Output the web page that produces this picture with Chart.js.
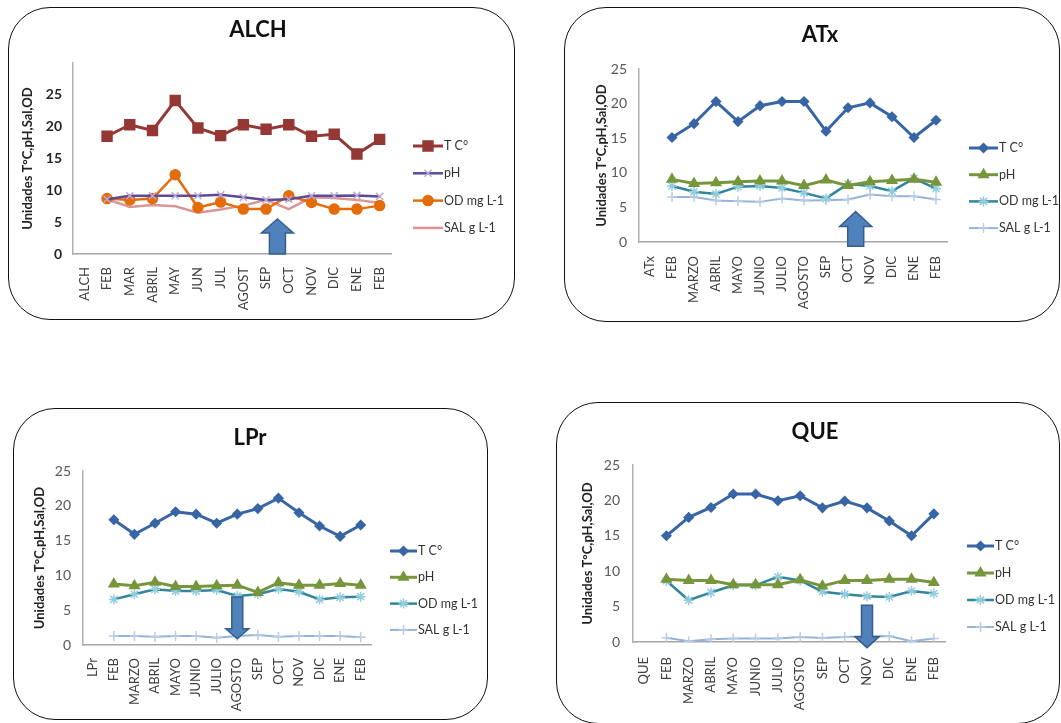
<!DOCTYPE html>
<html>
<head>
<meta charset="utf-8">
<script src="https://cdn.jsdelivr.net/npm/chart.js@4.4.0/dist/chart.umd.min.js"></script>
<style>
  body { margin: 0; width: 1061px; height: 723px; overflow: hidden; position: relative; background: #fff; }
  .panel { position: absolute; border: 1.5px solid #111; border-radius: 42px; box-sizing: border-box; }
  canvas { position: absolute; }
</style>
</head>
<body>
<div class="panel" id="box-alch"></div>
<div class="panel" id="box-atx"></div>
<div class="panel" id="box-lpr"></div>
<div class="panel" id="box-que"></div>
<canvas id="alch"></canvas>
<canvas id="atx"></canvas>
<canvas id="lpr"></canvas>
<canvas id="que"></canvas>
<script>
// --- data, one block per site (first category is the site name, no value) ---
const seriesNames = ['T C°', 'pH', 'OD mg L-1', 'SAL g L-1'];
const yTicksMain = [0, 5, 10, 15, 20, 25];

const alchLabels = ['ALCH', 'FEB', 'MAR', 'ABRIL', 'MAY', 'JUN', 'JUL', 'AGOST', 'SEP', 'OCT', 'NOV', 'DIC', 'ENE', 'FEB'];
const alchTemp = [null, 18.5, 20.3, 19.4, 24.1, 19.8, 18.6, 20.3, 19.6, 20.3, 18.5, 18.8, 15.7, 18.0];
const alchPH   = [null, 8.6, 9.15, 9.15, 9.15, 9.15, 9.3, 8.9, 8.5, 8.6, 9.15, 9.15, 9.2, 9.05];
const alchOD   = [null, 8.7, 8.5, 8.7, 12.45, 7.3, 8.15, 7.05, 7.05, 9.15, 8.1, 7.05, 7.05, 7.6];
const alchSAL  = [null, 8.6, 7.4, 7.7, 7.5, 6.5, 7.0, 7.6, 8.5, 7.05, 8.9, 8.8, 8.5, 8.0];

const atxLabels = ['ATx', 'FEB', 'MARZO', 'ABRIL', 'MAYO', 'JUNIO', 'JULIO', 'AGOSTO', 'SEP', 'OCT', 'NOV', 'DIC', 'ENE', 'FEB'];
const atxTemp = [null, 15.1, 17.1, 20.3, 17.4, 19.7, 20.3, 20.3, 16.0, 19.4, 20.1, 18.1, 15.1, 17.6];
const atxPH   = [null, 9.05, 8.45, 8.55, 8.7, 8.8, 8.8, 8.15, 8.95, 8.15, 8.7, 8.9, 9.05, 8.65];
const atxOD   = [null, 8.1, 7.25, 6.95, 8.0, 8.1, 7.8, 7.1, 6.3, 8.4, 8.1, 7.35, 9.2, 7.7];
const atxSAL  = [null, 6.5, 6.5, 6.0, 5.9, 5.8, 6.3, 6.0, 6.05, 6.15, 6.85, 6.6, 6.6, 6.15];

const lprLabels = ['LPr', 'FEB', 'MARZO', 'ABRIL', 'MAYO', 'JUNIO', 'JULIO', 'AGOSTO', 'SEP', 'OCT', 'NOV', 'DIC', 'ENE', 'FEB'];
const lprTemp = [null, 18.0, 15.9, 17.5, 19.15, 18.8, 17.5, 18.8, 19.6, 21.1, 19.0, 17.1, 15.6, 17.25];
const lprPH   = [null, 8.75, 8.5, 9.0, 8.4, 8.4, 8.5, 8.6, 7.55, 8.95, 8.6, 8.6, 8.85, 8.6];
const lprOD   = [null, 6.55, 7.3, 8.0, 7.75, 7.75, 7.9, 7.05, 7.3, 8.05, 7.65, 6.55, 6.85, 6.95];
const lprSAL  = [null, 1.3, 1.3, 1.2, 1.3, 1.3, 1.05, 1.3, 1.45, 1.2, 1.3, 1.3, 1.3, 1.1];

const queLabels = ['QUE', 'FEB', 'MARZO', 'ABRIL', 'MAYO', 'JUNIO', 'JULIO', 'AGOSTO', 'SEP', 'OCT', 'NOV', 'DIC', 'ENE', 'FEB'];
const queTemp = [null, 15.0, 17.6, 19.0, 20.9, 20.9, 19.95, 20.65, 18.95, 19.9, 18.95, 17.1, 15.0, 18.1];
const quePH   = [null, 8.85, 8.7, 8.7, 8.1, 8.1, 8.1, 8.8, 7.9, 8.7, 8.7, 8.85, 8.85, 8.4];
const queOD   = [null, 8.65, 5.9, 7.0, 8.0, 8.0, 9.2, 8.7, 7.1, 6.75, 6.45, 6.35, 7.2, 6.85];
const queSAL  = [null, 0.6, 0.1, 0.4, 0.5, 0.5, 0.5, 0.7, 0.55, 0.7, 0.8, 0.85, 0.1, 0.5];

const FONT = 'Lato, "Liberation Sans", sans-serif';

// title centred on the whole panel, not on the plot
const panelTitle = {
  id: 'panelTitle',
  afterDraw(chart, args, o) {
    const ctx = chart.ctx;
    ctx.save();
    ctx.font = 'bold 22px ' + FONT;
    ctx.fillStyle = '#111';
    ctx.textAlign = 'center';
    ctx.textBaseline = 'middle';
    ctx.fillText(o.text, o.x, o.y);
    ctx.restore();
  }
};

// legend drawn as excel-style line + marker samples on the right of the plot
const lineLegend = {
  id: 'lineLegend',
  afterDraw(chart, args, opts) {
    const ctx = chart.ctx;
    const x0 = chart.chartArea.right + opts.offsetX;
    chart.data.datasets.forEach((ds, i) => {
      const y = opts.top + i * opts.spacing;
      ctx.save();
      ctx.strokeStyle = ds.borderColor;
      ctx.lineWidth = ds.borderWidth;
      ctx.beginPath();
      ctx.moveTo(x0, y);
      ctx.lineTo(x0 + opts.length, y);
      ctx.stroke();
      if (ds.pointRadius > 0) {
        ctx.fillStyle = ds.pointBackgroundColor;
        ctx.strokeStyle = ds.pointBorderColor;
        ctx.lineWidth = ds.pointBorderWidth;
        Chart.helpers.drawPoint(ctx, {
          pointStyle: ds.pointStyle, radius: ds.pointRadius,
          borderWidth: ds.pointBorderWidth, rotation: 0
        }, x0 + opts.length / 2, y);
      }
      ctx.fillStyle = '#333';
      ctx.font = '12.5px ' + FONT;
      ctx.textBaseline = 'middle';
      ctx.fillText(ds.label, x0 + opts.length + 1, y);
      ctx.restore();
    });
  }
};

// block arrow pointing at a month, placed in data units
const arrowMark = {
  id: 'arrowMark',
  afterDatasetsDraw(chart, args, a) {
    const ctx = chart.ctx;
    const x = chart.scales.x.getPixelForValue(a.at);
    const yBase = chart.scales.y.getPixelForValue(a.from);
    const yTip = chart.scales.y.getPixelForValue(a.to);
    const dir = yTip < yBase ? -1 : 1;
    const yNeck = yTip - dir * a.headLen;
    ctx.save();
    ctx.beginPath();
    ctx.moveTo(x - a.shaft / 2, yBase);
    ctx.lineTo(x - a.shaft / 2, yNeck);
    ctx.lineTo(x - a.head / 2, yNeck);
    ctx.lineTo(x, yTip);
    ctx.lineTo(x + a.head / 2, yNeck);
    ctx.lineTo(x + a.shaft / 2, yNeck);
    ctx.lineTo(x + a.shaft / 2, yBase);
    ctx.closePath();
    ctx.fillStyle = '#4f81bd';
    ctx.fill();
    ctx.strokeStyle = '#385d8a';
    ctx.lineWidth = 1.5;
    ctx.stroke();
    ctx.restore();
  }
};

function series(label, data, color, style, radius, markColor, width) {
  return {
    label: label,
    data: data,
    borderColor: color,
    borderWidth: width,
    backgroundColor: color,
    pointStyle: style,
    pointRadius: radius,
    pointHoverRadius: radius,
    pointBackgroundColor: markColor,
    pointBorderColor: markColor,
    pointBorderWidth: 1.5,
    tension: 0
  };
}

function makePanel(id, p) {
  const box = document.getElementById('box-' + id);
  const cv = document.getElementById(id);
  [box, cv].forEach(el => {
    el.style.left = p.box.x + 'px';
    el.style.top = p.box.y + 'px';
    el.style.width = p.box.w + 'px';
    el.style.height = p.box.h + 'px';
  });
  cv.width = p.box.w;
  cv.height = p.box.h;

  return new Chart(cv, {
    type: 'line',
    data: { labels: p.labels, datasets: p.datasets },
    plugins: [panelTitle, lineLegend, arrowMark],
    options: {
      responsive: false,
      animation: false,
      devicePixelRatio: 1,
      layout: { padding: p.pad },
      plugins: {
        legend: { display: false },
        tooltip: { enabled: false },
        title: { display: false },
        panelTitle: p.title,
        lineLegend: p.legend,
        arrowMark: p.arrow
      },
      scales: {
        x: {
          type: 'category',
          offset: true,
          grid: { display: false },
          border: { color: '#a6a6a6', width: 1.5 },
          afterFit(s) { s.height = p.xHeight; },
          ticks: {
            autoSkip: false, minRotation: 90, maxRotation: 90, padding: p.xPad,
            color: '#404040', font: { family: FONT, size: 13 }
          }
        },
        y: {
          min: 0, max: p.yMax,
          grid: { display: false },
          border: { color: '#b0b0b0', width: 1.5 },
          afterFit(s) { s.width = p.yWidth; },
          afterBuildTicks(s) { s.ticks = yTicksMain.map(v => ({ value: v })); },
          title: {
            display: true, text: 'Unidades T°C,pH,Sal,OD', color: '#222',
            font: { family: FONT, size: 13, weight: 'bold' },
            padding: { top: 0, bottom: 0 }
          },
          ticks: {
            padding: p.tickPad, color: p.tickColor,
            font: { family: FONT, size: 14, weight: p.tickWeight }
          }
        }
      }
    }
  });
}

// ALCH: red / purple / orange / pink palette
makePanel('alch', {
  labels: alchLabels, yMax: 30,
  title: { text: 'ALCH', x: 250, y: 23 },
  box: { x: 8, y: 7, w: 507, h: 313 },
  pad: { left: 12, top: 56, right: 124, bottom: 6 },
  yWidth: 53, xHeight: 60, tickPad: 3, xPad: 5,
  tickColor: '#262626', tickWeight: 'bold',
  legend: { offsetX: 22, top: 139, spacing: 27.3, length: 30 },
  arrow: { at: 8.5, from: 0, to: 5.5, shaft: 16, head: 32, headLen: 14 },
  datasets: [
    series(seriesNames[0], alchTemp, '#953735', 'rect', 7, '#953735', 3),
    series(seriesNames[1], alchPH, '#5f4a99', 'crossRot', 5, '#b9aad8', 2.5),
    series(seriesNames[2], alchOD, '#e46c0a', 'circle', 5, '#e46c0a', 2.5),
    series(seriesNames[3], alchSAL, '#d99694', 'circle', 0, '#d99694', 2.5)
  ]
});

// the other three sites share the blue / green / teal / light blue palette
function bluePalette(t, ph, od, sal) {
  return [
    series(seriesNames[0], t, '#3765a5', 'rectRot', 4.5, '#3765a5', 3),
    series(seriesNames[1], ph, '#77963c', 'triangle', 5.5, '#77963c', 3),
    series(seriesNames[2], od, '#31869b', 'star', 5, '#93cddd', 2.5),
    series(seriesNames[3], sal, '#95b3d7', 'cross', 5, '#b9cde5', 2)
  ];
}

makePanel('atx', {
  labels: atxLabels, yMax: 25,
  title: { text: 'ATx', x: 256, y: 28 },
  box: { x: 564, y: 7, w: 496, h: 315 },
  pad: { left: 30, top: 62, right: 113, bottom: 10 },
  yWidth: 45, xHeight: 70, tickPad: 4, xPad: 6,
  tickColor: '#595959', tickWeight: 'normal',
  legend: { offsetX: 22, top: 141, spacing: 26.7, length: 29 },
  arrow: { at: 9.35, from: -0.6, to: 4.4, shaft: 16, head: 32, headLen: 15 },
  datasets: bluePalette(atxTemp, atxPH, atxOD, atxSAL)
});

makePanel('lpr', {
  labels: lprLabels, yMax: 25,
  title: { text: 'LPr', x: 237, y: 30 },
  box: { x: 13, y: 408, w: 475, h: 312 },
  pad: { left: 19, top: 63, right: 117, bottom: 7 },
  yWidth: 51, xHeight: 68, tickPad: 4, xPad: 5,
  tickColor: '#595959', tickWeight: 'normal',
  legend: { offsetX: 19, top: 143, spacing: 26.3, length: 27 },
  arrow: { at: 7, from: 6.9, to: 0.9, shaft: 11, head: 23, headLen: 10 },
  datasets: bluePalette(lprTemp, lprPH, lprOD, lprSAL)
});

makePanel('que', {
  labels: queLabels, yMax: 25,
  title: { text: 'QUE', x: 259, y: 30 },
  box: { x: 556, y: 402, w: 504, h: 322 },
  pad: { left: 24, top: 63, right: 115, bottom: 10 },
  yWidth: 53, xHeight: 72, tickPad: 5, xPad: 7,
  tickColor: '#595959', tickWeight: 'normal',
  legend: { offsetX: 22, top: 144, spacing: 27, length: 27 },
  arrow: { at: 10, from: 5.2, to: -0.8, shaft: 11, head: 24, headLen: 11 },
  datasets: bluePalette(queTemp, quePH, queOD, queSAL)
});
</script>
</body>
</html>
